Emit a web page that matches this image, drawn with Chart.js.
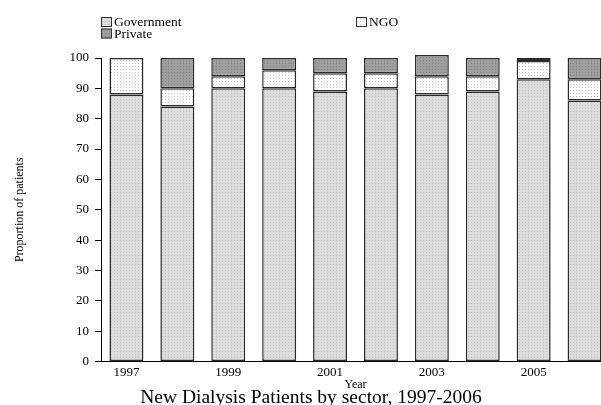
<!DOCTYPE html>
<html>
<head>
<meta charset="utf-8">
<script src="https://cdn.jsdelivr.net/npm/chart.js@4/dist/chart.umd.min.js"></script>
<style>
  html, body { margin: 0; padding: 0; background: #fff; overflow: hidden; }
  #wrap { width: 601px; height: 405px; overflow: hidden; }
  canvas { display: block; }
</style>
</head>
<body>
<div id="wrap"><canvas id="c" width="622" height="405"></canvas></div>
<script>
// Years on the category axis
const years = ['1997', '1998', '1999', '2000', '2001', '2002', '2003', '2004', '2005', '2006'];
// Share of new dialysis patients (%) by sector
const government = [88, 84, 90, 90, 89, 90, 88, 89, 93, 86];
const ngo        = [12,  6,  4,  6,  6,  5,  6,  5,  6,  7];
const privateSec = [ 0, 10,  6,  4,  5,  5,  7,  6,  1,  7];
const seriesNames = ['Government', 'NGO', 'Private'];
const yTicks = [0, 10, 20, 30, 40, 50, 60, 70, 80, 90, 100];

const SERIF = "'Liberation Serif', 'Times New Roman', serif";
const canvas = document.getElementById('c');
const ctx = canvas.getContext('2d');

// Small stippled tile used as a bar fill
function dotPattern(bg, dot) {
  const t = document.createElement('canvas');
  t.width = 3; t.height = 3;
  const g = t.getContext('2d');
  g.fillStyle = bg; g.fillRect(0, 0, 3, 3);
  g.fillStyle = dot; g.fillRect(0, 0, 1, 1);
  return ctx.createPattern(t, 'repeat');
}
const fills = [
  dotPattern('#dcdcdc', '#c2c2c2'),
  dotPattern('#ffffff', '#c8c8c8'),
  dotPattern('#9e9e9e', '#858585')
];

// Two-column legend above the plot, plus the caption under it
const legendAndCaption = {
  id: 'legendAndCaption',
  afterDraw(chart) {
    const c = chart.ctx;
    const spots = [
      { x: 101, y: 17 },   // Government
      { x: 356, y: 17 },   // NGO
      { x: 101, y: 28.5 }  // Private
    ];
    c.save();
    c.font = '13.5px ' + SERIF;
    c.textBaseline = 'middle';
    c.textAlign = 'left';
    seriesNames.forEach((name, i) => {
      const s = spots[i];
      c.fillStyle = fills[i];
      c.fillRect(s.x, s.y, 11, 10);
      c.strokeStyle = '#333';
      c.lineWidth = 1;
      c.strokeRect(s.x + 0.5, s.y + 0.5, 10, 9);
      c.fillStyle = '#000';
      c.fillText(name, s.x + 13, s.y + 5.5);
    });
    c.font = '19.5px ' + SERIF;
    c.textAlign = 'center';
    c.textBaseline = 'alphabetic';
    c.fillText('New Dialysis Patients by sector, 1997-2006', chart.width / 2, 403);
    c.restore();
  }
};

const common = {
  borderColor: '#2a2a2a',
  borderWidth: 1.5,
  borderSkipped: false,
  categoryPercentage: 1.0,
  barPercentage: 0.667,
  clip: false
};

new Chart(ctx, {
  type: 'bar',
  data: {
    labels: years,
    datasets: [
      Object.assign({ label: seriesNames[0], data: government, backgroundColor: fills[0] }, common),
      Object.assign({ label: seriesNames[1], data: ngo, backgroundColor: fills[1] }, common),
      Object.assign({ label: seriesNames[2], data: privateSec, backgroundColor: fills[2] }, common)
    ]
  },
  options: {
    responsive: false,
    animation: false,
    devicePixelRatio: 1,
    layout: { padding: { top: 58, right: 12, left: 0, bottom: 14.5 } },
    plugins: {
      legend: { display: false },
      tooltip: { enabled: false },
      title: { display: false }
    },
    scales: {
      x: {
        stacked: true,
        afterFit(scale) { scale.height = 29; },
        grid: { display: false, drawTicks: false },
        border: { display: true, color: '#000', width: 1 },
        ticks: {
          autoSkip: false,
          maxRotation: 0,
          padding: 3,
          color: '#000',
          font: { family: SERIF, size: 13 },
          callback(value, index) { return index % 2 === 0 ? years[index] : ''; }
        },
        title: {
          display: true,
          text: 'Year',
          color: '#000',
          font: { family: SERIF, size: 12 },
          padding: { top: 0, bottom: -1.5 }
        }
      },
      y: {
        stacked: true,
        min: 0,
        max: 100,
        afterFit(scale) { scale.width = 101; },
        afterBuildTicks(scale) { scale.ticks = yTicks.map(v => ({ value: v })); },
        grid: { drawOnChartArea: false, drawTicks: true, tickLength: 6, color: '#000' },
        border: { display: true, color: '#000', width: 1 },
        ticks: {
          padding: 6,
          color: '#000',
          font: { family: SERIF, size: 13 }
        },
        title: {
          display: true,
          text: 'Proportion of patients',
          color: '#000',
          font: { family: SERIF, size: 12 },
          padding: { top: 12.5, bottom: 0 }
        }
      }
    }
  },
  plugins: [legendAndCaption]
});
</script>
</body>
</html>
